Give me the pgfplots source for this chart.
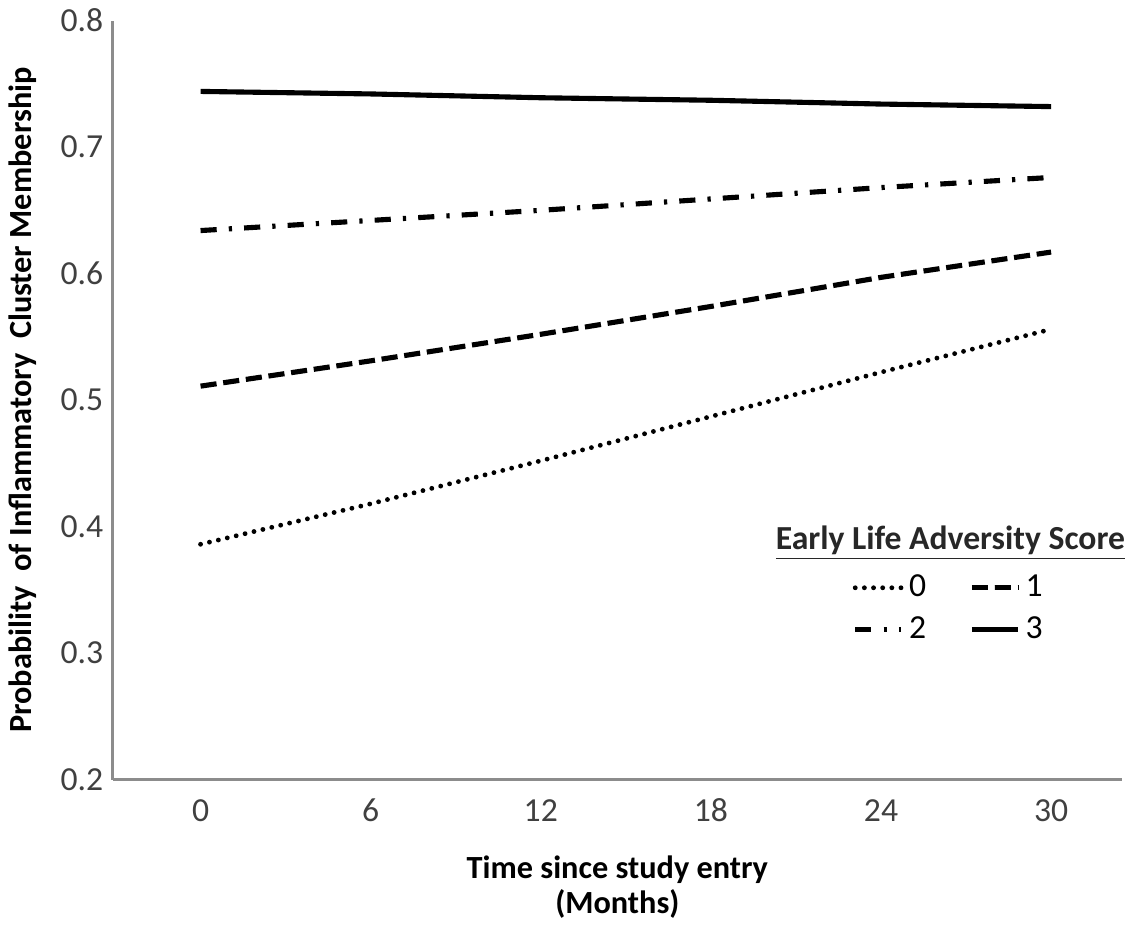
\documentclass[border=0pt]{standalone}
\usepackage{fontspec}
\setmainfont{Carlito}
\usepackage{pgfplots}
\pgfplotsset{compat=1.18}
\definecolor{axgray}{HTML}{8C8C8C}
\definecolor{txtgray}{HTML}{404040}

\begin{document}
\begin{tikzpicture}
  \begin{axis}[
      scale only axis,
      width  = 375pt,
      height = 282pt,
      xmin = -3.1, xmax = 32.5,
      ymin = 0.2,  ymax = 0.8,
      axis x line = bottom,
      axis y line = left,
      axis line style = {axgray, line width=0.9pt, -},
      xtick = {0,6,12,18,24,30},
      ytick = {0.2,0.3,0.4,0.5,0.6,0.7,0.8},
      major tick length = 0pt,
      /pgf/number format/assume math mode=true,
      yticklabel style = {/pgf/number format/fixed, /pgf/number format/precision=1,
                          /pgf/number format/fixed zerofill, text=txtgray, font=\fontsize{12.5}{14}\selectfont, xshift=0pt},
      xticklabel style = {text=txtgray, font=\fontsize{12.5}{14}\selectfont, yshift=-3pt,
                          text height=9pt, text depth=2pt},
      xlabel = {\textbf{Time since study entry}\\[-1pt]\textbf{(Months)}},
      xlabel style = {align=center, font=\fontsize{12}{14}\selectfont, yshift=-4pt},
      ylabel = {\textbf{Probability \ of Inflammatory \ Cluster Membership}},
      ylabel style = {font=\fontsize{12}{14}\selectfont, yshift=2pt},
      legend columns = 2,
      legend style = {draw=none, fill=none, at={(0.83,0.225)}, anchor=center,
                      font=\fontsize{12.5}{14}\selectfont, row sep=2pt,
                      /tikz/every even column/.append style={column sep=14pt}},
      legend cell align = left,
      clip = false,
    ]
    \addplot[black, line width=1.8pt, line cap=round, dash pattern=on 0pt off 3.4pt] coordinates
      {(0,0.386) (6,0.418) (12,0.452) (18,0.487) (24,0.522) (30,0.556)};
    \addlegendentry{0}
    \addplot[black, line width=1.9pt, dash pattern=on 6pt off 2.5pt] coordinates
      {(0,0.511) (6,0.531) (12,0.552) (18,0.574) (24,0.597) (30,0.617)};
    \addlegendentry{1}
    \addplot[black, line width=1.9pt, dash pattern=on 6pt off 4.5pt on 1.2pt off 4.5pt] coordinates
      {(0,0.634) (6,0.642) (12,0.650) (18,0.659) (24,0.668) (30,0.676)};
    \addlegendentry{2}
    \addplot[black, line width=1.9pt] coordinates
      {(0,0.744) (6,0.742) (12,0.739) (18,0.737) (24,0.734) (30,0.732)};
    \addlegendentry{3}
    \node[font=\fontsize{12.5}{15}\selectfont\bfseries, text=txtgray!60!black] at (rel axis cs:0.83,0.312)
      {\underline{Early Life Adversity Score}};
  \end{axis}
\end{tikzpicture}
\end{document}
